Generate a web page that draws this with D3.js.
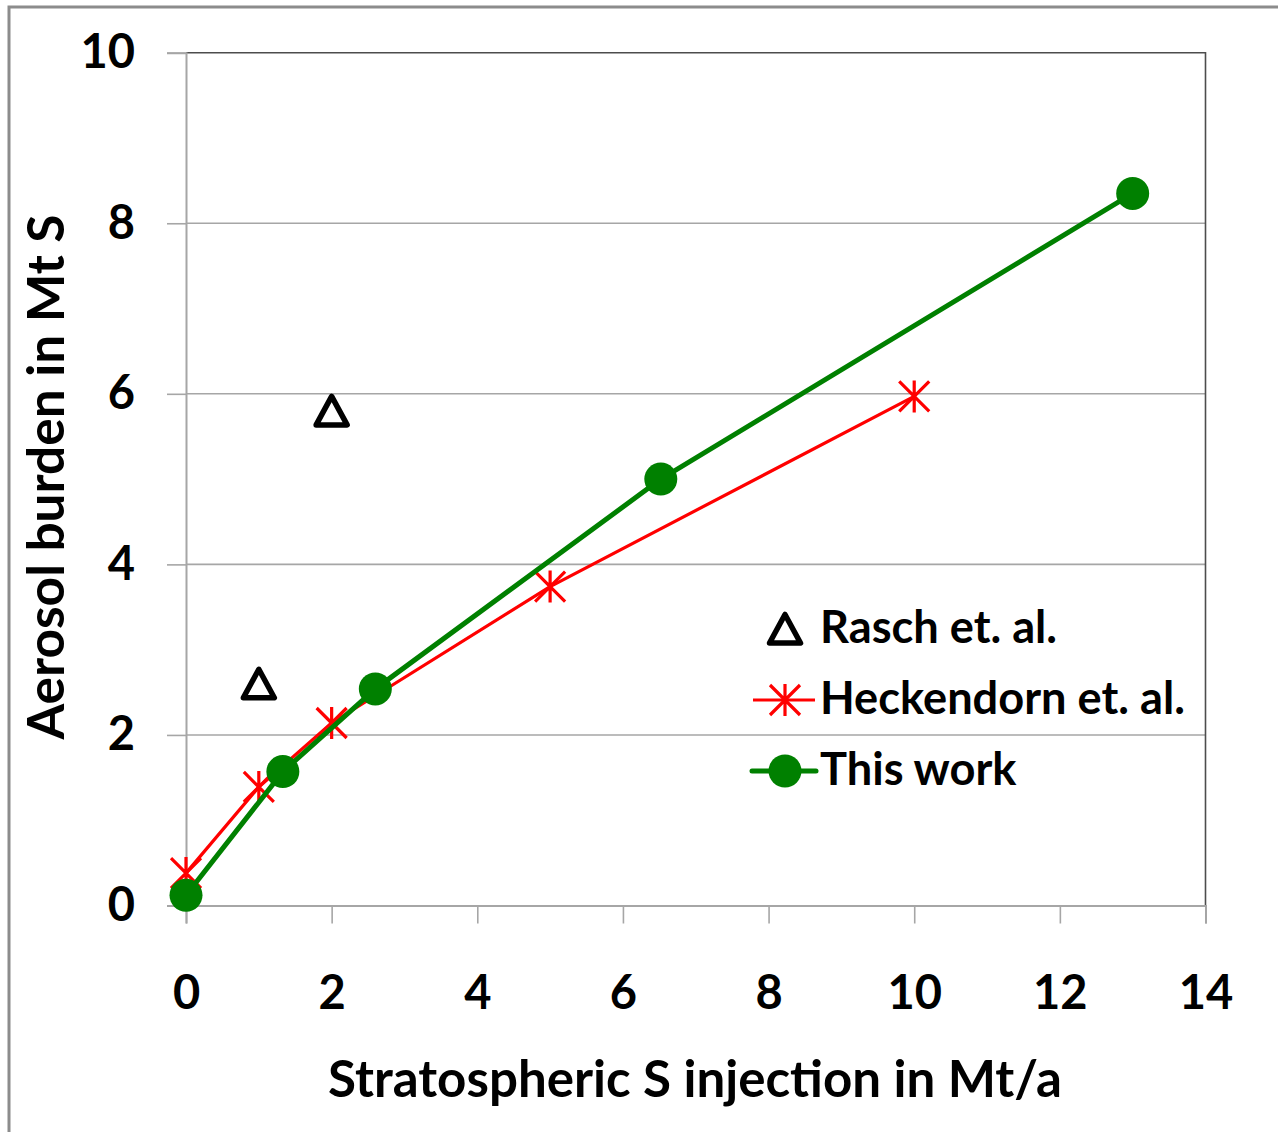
<!DOCTYPE html>
<html>
<head>
<meta charset="utf-8">
<script src="https://cdn.jsdelivr.net/npm/d3@7"></script>
<style>
  html, body { margin: 0; padding: 0; background: #fff; }
  svg { display: block; }
  text { font-family: Lato, "Open Sans", sans-serif; font-weight: 700; fill: #000; }
</style>
</head>
<body>
<svg id="chart" width="1278" height="1132"></svg>
<script>
// Rasch et al.
const raschX = [1, 2];
const raschY = [2.6, 5.8];
// Heckendorn et al.
const heckX = [0, 1, 2, 5, 10];
const heckY = [0.38, 1.39, 2.14, 3.74, 5.97];
// This work
const workX = [0, 1.33, 2.6, 6.52, 13];
const workY = [0.12, 1.57, 2.54, 5.0, 8.35];

const xTicks = [0, 2, 4, 6, 8, 10, 12, 14];
const yTicks = [0, 2, 4, 6, 8, 10];
const seriesNames = ["Rasch et. al.", "Heckendorn et. al.", "This work"];
const xTitle = "Stratospheric S injection in Mt/a";
const yTitle = "Aerosol burden in Mt S";

const svg = d3.select("#chart");
const W = 1278, H = 1132;
const plot = { left: 186, right: 1205.5, top: 52.7, bottom: 905.5 };

const x = d3.scaleLinear().domain([0, 14]).range([plot.left, plot.right]);
const y = d3.scaleLinear().domain([0, 10]).range([plot.bottom, plot.top]);

const GREEN = "#008000", RED = "#ff0000", GRID = "#a6a6a6";

// outer frame (left and top edges visible)
svg.append("path")
  .attr("d", `M9,${H + 5} V7 H${W + 5}`)
  .attr("fill", "none").attr("stroke", "#8c8c8c").attr("stroke-width", 3);

// horizontal gridlines
svg.append("g").selectAll("line").data(yTicks.filter(v => v > 0 && v < 10)).join("line")
  .attr("x1", plot.left).attr("x2", plot.right)
  .attr("y1", d => y(d)).attr("y2", d => y(d))
  .attr("stroke", GRID).attr("stroke-width", 1.6);

// plot-area border (top & right)
svg.append("path")
  .attr("d", `M${plot.left},${y(10)} H${plot.right} V${plot.bottom}`)
  .attr("fill", "none").attr("stroke", "#4d4d4d").attr("stroke-width", 1.6);

// axes
const xAxis = d3.axisBottom(x).tickValues(xTicks).tickSize(18).tickPadding(52).tickFormat(d3.format("d"));
const yAxis = d3.axisLeft(y).tickValues(yTicks).tickSize(19).tickPadding(32).tickFormat(d3.format("d"));

const gx = svg.append("g").attr("transform", `translate(0,${plot.bottom})`).call(xAxis);
const gy = svg.append("g").attr("transform", `translate(${plot.left},0)`).call(yAxis);
[gx, gy].forEach(g => {
  g.select(".domain").attr("stroke", GRID).attr("stroke-width", 2);
  g.selectAll(".tick line").attr("stroke", GRID).attr("stroke-width", 1.6);
  g.selectAll(".tick text").style("font-family", "Lato, 'Open Sans', sans-serif")
    .style("font-weight", 700).style("font-size", "47px").attr("fill", "#000");
});
gx.selectAll(".tick text").attr("dy", "0.72em");

// fit a text element's font size so its width matches a target
function fitText(sel, target, base) {
  sel.style("font-size", base + "px");
  const w = sel.node().getComputedTextLength();
  sel.style("font-size", (base * target / w).toFixed(2) + "px");
}

// axis titles
const xt = svg.append("text").attr("x", 695).attr("y", 1097).attr("text-anchor", "middle").text(xTitle);
fitText(xt, 734, 40);
const yt = svg.append("text").attr("transform", `translate(64,477) rotate(-90)`)
  .attr("text-anchor", "middle").text(yTitle);
fitText(yt, 525, 40);

// marker shapes
const triPath = "M0,-14.5 L15.5,14 L-15.5,14 Z";
const starPath = "M-15,-15 L15,15 M15,-15 L-15,15 M0,-16 L0,16";

function drawTriangle(g, cx, cy) {
  g.append("path").attr("d", triPath).attr("transform", `translate(${cx},${cy})`)
    .attr("fill", "#fff").attr("stroke", "#000").attr("stroke-width", 5.5)
    .attr("stroke-linejoin", "round");
}
function drawStar(g, cx, cy) {
  g.append("path").attr("d", starPath).attr("transform", `translate(${cx},${cy})`)
    .attr("fill", "none").attr("stroke", RED).attr("stroke-width", 3.2);
}
function drawDot(g, cx, cy) {
  g.append("circle").attr("cx", cx).attr("cy", cy).attr("r", 16.5).attr("fill", GREEN);
}

const line = d3.line().x(d => x(d[0])).y(d => y(d[1]));

// Rasch et al. (markers only)
const gR = svg.append("g");
raschX.forEach((v, i) => drawTriangle(gR, x(v), y(raschY[i])));

// Heckendorn et al.
const gH = svg.append("g");
gH.append("path").datum(heckX.map((v, i) => [v, heckY[i]])).attr("d", line)
  .attr("fill", "none").attr("stroke", RED).attr("stroke-width", 3.2).attr("stroke-linejoin", "round");
heckX.forEach((v, i) => drawStar(gH, x(v), y(heckY[i])));

// This work
const gW = svg.append("g");
gW.append("path").datum(workX.map((v, i) => [v, workY[i]])).attr("d", line)
  .attr("fill", "none").attr("stroke", GREEN).attr("stroke-width", 5).attr("stroke-linejoin", "round");
workX.forEach((v, i) => drawDot(gW, x(v), y(workY[i])));

// legend
const leg = svg.append("g");
const legRows = [629, 700, 771];
drawTriangle(leg, 785, legRows[0]);
leg.append("line").attr("x1", 753).attr("x2", 815).attr("y1", legRows[1]).attr("y2", legRows[1])
  .attr("stroke", RED).attr("stroke-width", 3.2);
drawStar(leg, 785, legRows[1]);
leg.append("line").attr("x1", 752).attr("x2", 816).attr("y1", legRows[2]).attr("y2", legRows[2])
  .attr("stroke", GREEN).attr("stroke-width", 5).attr("stroke-linecap", "round");
drawDot(leg, 785, legRows[2]);

const legTexts = seriesNames.map((name, i) =>
  leg.append("text").attr("x", 820).attr("y", legRows[i] + 14).text(name));
fitText(legTexts[1], 365, 40);
const legSize = legTexts[1].style("font-size");
legTexts.forEach(t => t.style("font-size", legSize));
</script>
</body>
</html>
